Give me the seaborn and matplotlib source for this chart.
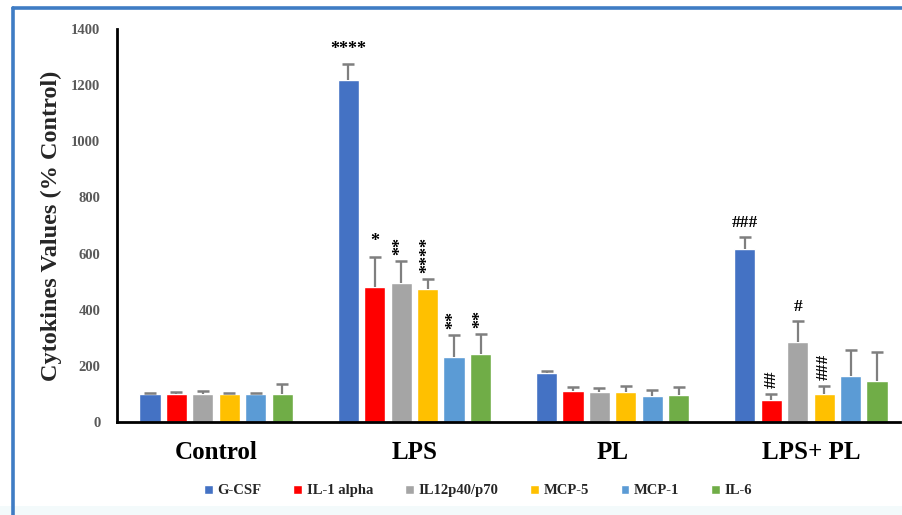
import matplotlib
matplotlib.use("Agg")
import matplotlib.pyplot as plt
import seaborn as sns
import pandas as pd
import numpy as np
from matplotlib.lines import Line2D
from matplotlib.patches import Rectangle
from matplotlib.container import BarContainer

groups = ["Control", "LPS", "PL", "LPS+ PL"]
cytokines = ["G-CSF", "IL-1 alpha", "IL12p40/p70", "MCP-5", "MCP-1", "IL-6"]
colors = ["#4472C4", "#FF0000", "#A5A5A5", "#FFC000", "#5B9BD5", "#70AD47"]

# values per cytokine across groups (Control, LPS, PL, LPS+PL)
gcsf = [100, 1218, 176, 616]
il1a = [100, 482, 109, 79]
il12 = [100, 494, 106, 284]
mcp5 = [100, 473, 107, 101]
mcp1 = [100, 233, 94, 165]
il6 = [100, 242, 97, 145]

gcsf_err = [5, 56, 7, 43]
il1a_err = [8, 107, 16, 21]
il12_err = [12, 80, 15, 76]
mcp5_err = [3, 35, 21, 26]
mcp1_err = [3, 76, 21, 90]
il6_err = [36, 70, 28, 104]

gcsf_sig = ["", "****", "", "###"]
il1a_sig = ["", "*", "", "##"]
il12_sig = ["", "**", "", "#"]
mcp5_sig = ["", "****", "", "###"]
mcp1_sig = ["", "**", "", ""]
il6_sig = ["", "**", "", ""]

values = [gcsf, il1a, il12, mcp5, mcp1, il6]
errors = [gcsf_err, il1a_err, il12_err, mcp5_err, mcp1_err, il6_err]
sigs = [gcsf_sig, il1a_sig, il12_sig, mcp5_sig, mcp1_sig, il6_sig]
# which annotations are drawn vertically (stacked)
vertical = [[False] * 4,
            [False, False, False, True],
            [False, True, False, False],
            [False, True, False, True],
            [False, True, False, False],
            [False, True, False, False]]

rows = []
for c, vals in zip(cytokines, values):
    for g, v in zip(groups, vals):
        rows.append({"Group": g, "Cytokine": c, "Value": v})
df = pd.DataFrame(rows)

sns.set_style("white")
plt.rcParams["font.family"] = ["Liberation Serif", "DejaVu Serif"]

fig = plt.figure(figsize=(9.02, 5.15), dpi=100)
ax = fig.add_axes([0.1297, 0.1806, 0.8683, 0.7631])

sns.barplot(data=df, x="Group", y="Value", hue="Cytokine", order=groups,
            hue_order=cytokines, palette=colors, width=0.8, gap=0.2,
            errorbar=None, ax=ax, legend=True, saturation=1)

bar_conts = [c for c in ax.containers if isinstance(c, BarContainer)]

# error bars (upper only) + annotations using bar patch positions
for i, cont in enumerate(bar_conts):
    for j, bar in enumerate(cont.patches):
        x = bar.get_x() + bar.get_width() / 2
        h = bar.get_height()
        e = errors[i][j]
        ax.errorbar([x], [h], yerr=[[0], [e]], fmt="none", ecolor="#7F7F7F",
                    elinewidth=1.6, capsize=0, zorder=3)
        ax.plot([x], [h + e], marker="_", markersize=8, markeredgewidth=1.8,
                color="#7F7F7F", zorder=3)
        s = sigs[i][j]
        if s:
            if vertical[i][j]:
                ax.text(x, h + e + 22, s, rotation=90, ha="center", va="bottom",
                        fontsize=13 if "*" in s else 12.5, color="black",
                        fontweight="bold")
            else:
                ax.text(x, h + e + 22, s, ha="center", va="bottom",
                        fontsize=13 if "*" in s else 12.5, color="black",
                        fontweight="bold")

ax.set_ylim(0, 1400)
ax.set_xlim(-0.5, 3.45)
ax.set_yticks(np.arange(0, 1401, 200))
ax.tick_params(axis="y", length=0, labelsize=10.5, labelcolor="#595959", pad=12)
for lab in ax.get_yticklabels():
    lab.set_fontweight("bold")
ax.tick_params(axis="x", length=0, labelsize=18, labelcolor="black", pad=14)
for lab in ax.get_xticklabels():
    lab.set_fontweight("bold")
ax.set_xlabel("")
ax.set_ylabel("Cytokines Values (% Control)", fontsize=17.5, fontweight="bold")
ax.yaxis.set_label_coords(-0.07, 0.5)
for sp in ["top", "right"]:
    ax.spines[sp].set_visible(False)
for sp in ["left", "bottom"]:
    ax.spines[sp].set_linewidth(2)
    ax.spines[sp].set_color("black")

leg = ax.get_legend()
handles = leg.legend_handles
leg.remove()
fig.legend(handles, cytokines, loc="center", bbox_to_anchor=(0.53, 0.047),
           ncol=6, frameon=False, handlelength=0.6, handleheight=0.6,
           handletextpad=0.3, columnspacing=2.2,
           prop={"family": "Liberation Serif", "weight": "bold", "size": 10.5})

# bottom tint and blue frame
fig.patches.append(Rectangle((0.0, 0.0), 1.0, 0.018, transform=fig.transFigure,
                             facecolor="#F3FAFB", edgecolor="none", zorder=0))
fig.lines.append(Line2D([0.0143, 0.0143], [0.0, 0.984], transform=fig.transFigure,
                        color="#3F7CC4", linewidth=2.6))
fig.lines.append(Line2D([0.0143, 1.0], [0.984, 0.984], transform=fig.transFigure,
                        color="#3F7CC4", linewidth=2.6))

fig.savefig("out.png", dpi=100)
